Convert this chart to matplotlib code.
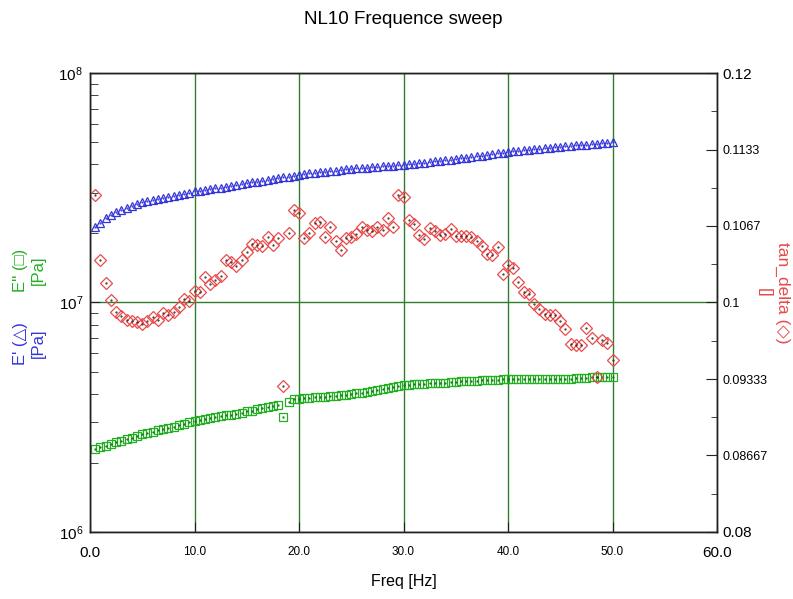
import numpy as np
import matplotlib
matplotlib.use("Agg")
import matplotlib.pyplot as plt
from matplotlib.ticker import FixedLocator, FixedFormatter

plt.rcParams['font.family'] = ['Liberation Sans', 'DejaVu Sans']
plt.rcParams['mathtext.default'] = 'regular'

# frequency [Hz]
freq = [0.5, 1.0, 1.5, 2.0, 2.5, 3.0, 3.5, 4.0, 4.5, 5.0,
        5.5, 6.0, 6.5, 7.0, 7.5, 8.0, 8.5, 9.0, 9.5, 10.0,
        10.5, 11.0, 11.5, 12.0, 12.5, 13.0, 13.5, 14.0, 14.5, 15.0,
        15.5, 16.0, 16.5, 17.0, 17.5, 18.0, 18.5, 19.0, 19.5, 20.0,
        20.5, 21.0, 21.5, 22.0, 22.5, 23.0, 23.5, 24.0, 24.5, 25.0,
        25.5, 26.0, 26.5, 27.0, 27.5, 28.0, 28.5, 29.0, 29.5, 30.0,
        30.5, 31.0, 31.5, 32.0, 32.5, 33.0, 33.5, 34.0, 34.5, 35.0,
        35.5, 36.0, 36.5, 37.0, 37.5, 38.0, 38.5, 39.0, 39.5, 40.0,
        40.5, 41.0, 41.5, 42.0, 42.5, 43.0, 43.5, 44.0, 44.5, 45.0,
        45.5, 46.0, 46.5, 47.0, 47.5, 48.0, 48.5, 49.0, 49.5, 50.0]

# E' storage modulus [1e7 Pa]
e_store = [2.13, 2.22, 2.33, 2.41, 2.47, 2.53, 2.58, 2.63, 2.68, 2.73,
           2.76, 2.79, 2.82, 2.85, 2.88, 2.91, 2.94, 2.97, 3.01, 3.05,
           3.07, 3.10, 3.12, 3.15, 3.17, 3.20, 3.22, 3.25, 3.28, 3.31,
           3.34, 3.36, 3.39, 3.42, 3.45, 3.48, 3.51, 3.54, 3.57, 3.61,
           3.63, 3.65, 3.67, 3.69, 3.71, 3.73, 3.75, 3.77, 3.80, 3.82,
           3.84, 3.85, 3.87, 3.88, 3.90, 3.92, 3.93, 3.95, 3.96, 3.98,
           4.01, 4.03, 4.05, 4.07, 4.10, 4.12, 4.14, 4.17, 4.19, 4.22,
           4.25, 4.28, 4.31, 4.34, 4.37, 4.40, 4.44, 4.47, 4.50, 4.53,
           4.56, 4.58, 4.61, 4.63, 4.65, 4.68, 4.70, 4.72, 4.75, 4.77,
           4.79, 4.82, 4.84, 4.86, 4.88, 4.91, 4.93, 4.95, 4.97, 5.00]

# E'' loss modulus [1e6 Pa]
e_loss = [2.31, 2.34, 2.38, 2.42, 2.46, 2.50, 2.54, 2.58, 2.62, 2.66,
          2.70, 2.73, 2.77, 2.80, 2.84, 2.88, 2.92, 2.96, 3.00, 3.04,
          3.07, 3.10, 3.13, 3.16, 3.19, 3.22, 3.25, 3.28, 3.31, 3.35,
          3.38, 3.42, 3.46, 3.50, 3.54, 3.58, 3.16, 3.68, 3.80, 3.81,
          3.82, 3.84, 3.86, 3.87, 3.89, 3.90, 3.92, 3.94, 3.96, 3.99,
          4.02, 4.05, 4.08, 4.12, 4.16, 4.20, 4.24, 4.28, 4.33, 4.37,
          4.38, 4.40, 4.41, 4.42, 4.44, 4.45, 4.46, 4.48, 4.50, 4.52,
          4.53, 4.54, 4.55, 4.57, 4.58, 4.59, 4.60, 4.61, 4.62, 4.63,
          4.63, 4.64, 4.64, 4.64, 4.63, 4.64, 4.64, 4.63, 4.64, 4.64,
          4.65, 4.66, 4.67, 4.68, 4.70, 4.72, 4.73, 4.74, 4.75, 4.74]

tan_delta = [0.1094, 0.1037, 0.1017, 0.1002, 0.0992, 0.0988, 0.0985, 0.0984, 0.0983, 0.0981,
             0.0984, 0.0987, 0.0985, 0.0991, 0.0989, 0.0992, 0.0996, 0.1003, 0.1001, 0.1010,
             0.1009, 0.1022, 0.1016, 0.1020, 0.1023, 0.1037, 0.1035, 0.1032, 0.1037, 0.1044,
             0.1051, 0.1050, 0.1049, 0.1057, 0.1050, 0.1056, 0.0927, 0.1061, 0.1081, 0.1078,
             0.1056, 0.1061, 0.1069, 0.1070, 0.1057, 0.1066, 0.1054, 0.1046, 0.1056, 0.1057,
             0.1060, 0.1066, 0.1063, 0.1062, 0.1066, 0.1063, 0.1074, 0.1066, 0.1094, 0.1092,
             0.1072, 0.1068, 0.1059, 0.1055, 0.1065, 0.1062, 0.1059, 0.1060, 0.1064, 0.1058,
             0.1058, 0.1058, 0.1057, 0.1054, 0.1049, 0.1042, 0.1041, 0.1048, 0.1025, 0.1033,
             0.1030, 0.1018, 0.1009, 0.1007, 0.0999, 0.0994, 0.0990, 0.0989, 0.0989, 0.0984,
             0.0977, 0.0964, 0.0963, 0.0963, 0.0978, 0.0969, 0.0935, 0.0967, 0.0965, 0.0950]

x_ticks = [0, 10, 20, 30, 40, 50, 60]
x_labels = ["0.0", "10.0", "20.0", "30.0", "40.0", "50.0", "60.0"]
r_ticks = [0.08, 0.08667, 0.09333, 0.1, 0.1067, 0.1133, 0.12]
r_labels = ["0.08", "0.08667", "0.09333", "0.1", "0.1067", "0.1133", "0.12"]

blue = '#3434dc'
green = '#22b022'
red = '#e84a4a'
grid_green = '#2e7d2e'

fig = plt.figure(figsize=(7.93, 5.99), dpi=100)
ax = fig.add_axes([0.1135, 0.1119, 0.7907, 0.7662])
ax2 = ax.twinx()

freq = np.array(freq)
es = np.array(e_store) * 1e7
el = np.array(e_loss) * 1e6

ax.plot(freq, es, linestyle='none', marker='^', ms=6.2, mfc='none', mec=blue, mew=0.9)
ax.plot(freq, es, linestyle='none', marker='.', ms=1.2, color=blue)
ax.plot(freq, el, linestyle='none', marker='s', ms=6, mfc='none', mec=green, mew=0.9)
ax.plot(freq, el, linestyle='none', marker='.', ms=1.2, color='#1a6a1a')
ax2.plot(freq, tan_delta, linestyle='none', marker='D', ms=6.5, mfc='none', mec=red, mew=0.9)
ax2.plot(freq, tan_delta, linestyle='none', marker='.', ms=1.2, color='#333333')

ax.set_yscale('log')
ax.set_ylim(1e6, 1e8)
ax.set_xlim(0, 60)
ax2.set_ylim(0.08, 0.12)

ax.set_xticks(x_ticks)
ax.set_xticklabels(x_labels)
ax.grid(True, which='major', color=grid_green, linewidth=1.0)
ax.set_axisbelow(True)

ax.tick_params(axis='both', which='both', direction='in', color='#222222')
ax.tick_params(axis='x', length=7, pad=10)
ax.tick_params(axis='y', which='major', length=7, pad=5, labelsize=11)
ax.tick_params(axis='y', which='minor', length=6)
ax.tick_params(axis='y', right=False)

ax2.yaxis.set_major_locator(FixedLocator(r_ticks))
ax2.yaxis.set_major_formatter(FixedFormatter(r_labels))
ax2.yaxis.set_minor_locator(FixedLocator(list(np.arange(0.08, 0.1201, 0.04 / 12))))
ax2.tick_params(axis='y', which='major', direction='in', length=8, pad=4, color='#222222')
ax2.tick_params(axis='y', which='minor', direction='in', length=4, color='#222222')

for lab in ax.get_xticklabels():
    lab.set_fontsize(11 if lab.get_text() in ("0.0", "60.0") else 8.5)
for lab in ax2.get_yticklabels():
    lab.set_fontsize(11 if lab.get_text() in ("0.12", "0.08") else 9)

for a in (ax, ax2):
    for s in a.spines.values():
        s.set_color('#222222')
        s.set_linewidth(1.0)

fig.text(0.509, 0.968, "NL10 Frequence sweep", ha='center', va='center', fontsize=13.5)
ax.set_xlabel("Freq [Hz]", fontsize=11.5, labelpad=10)

fig.text(0.037, 0.549, "E'' (\u25a1)\n[Pa]", rotation=90, ha='center', va='center',
         multialignment='center', color=green, fontsize=12, linespacing=1.3)
fig.text(0.037, 0.427, "E' (\u25b3)\n[Pa]", rotation=90, ha='center', va='center',
         multialignment='center', color=blue, fontsize=12, linespacing=1.3)
fig.text(0.975, 0.511, "tan_delta (\u25c7)\n[]", rotation=270, ha='center', va='center',
         multialignment='center', color=red, fontsize=12.5, linespacing=1.3)

fig.savefig("out.png", dpi=100)
